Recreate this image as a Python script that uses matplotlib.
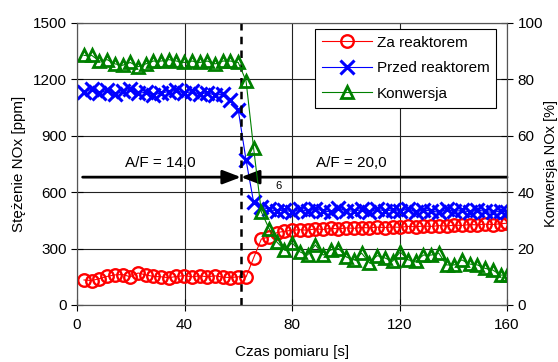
import numpy as np
import matplotlib
matplotlib.use('Agg')
import matplotlib.pyplot as plt

plt.rcParams['font.family'] = ['Liberation Sans', 'DejaVu Sans']
plt.rcParams['font.size'] = 11

#Measurement times [s]
czas = [2.6, 5.5, 8.3, 11.2, 14.1, 17.0, 19.8, 22.7, 25.6, 28.4, 31.3, 34.2, 37.0, 39.9,
	42.8, 45.7, 48.5, 51.4, 54.3, 57.1, 60.0, 62.9, 65.7, 68.6, 71.5, 74.4, 77.2, 80.1,
	83.0, 85.8, 88.7, 91.6, 94.4, 97.3, 100.2, 103.1, 105.9, 108.8, 111.7, 114.5, 117.4,
	120.3, 123.1, 126.0, 128.9, 131.8, 134.6, 137.5, 140.4, 143.2, 146.1, 149.0, 151.8,
	154.7, 157.6, 160.0]

#NOx after reactor [ppm]
za_reaktorem = [133, 130, 140, 152, 160, 162, 150, 170, 160, 152, 150, 145, 152, 156,
	150, 155, 150, 155, 148, 146, 150, 149, 250, 351, 362, 385, 392, 398,
	400, 398, 405, 402, 408, 405, 410, 408, 412, 410, 414, 412, 415,
	413, 418, 416, 420, 418, 422, 420, 425, 423, 428, 426, 430,
	428, 432, 435]

#NOx before reactor [ppm]
przed_reaktorem = [1135, 1148, 1128, 1142, 1122, 1136, 1148, 1125, 1132, 1118, 1128, 1135, 1142, 1126,
	1136, 1120, 1130, 1115, 1122, 1092, 1037, 771, 548, 522, 508, 500, 505, 495,
	510, 498, 512, 500, 495, 515, 502, 498, 508, 495, 510, 500, 505,
	498, 512, 496, 505, 500, 493, 508, 498, 503, 495, 505, 498,
	492, 500, 495]

#NOx conversion [%]
konwersja = [88.5, 88.5, 86.5, 87.0, 85.5, 85.0, 86.0, 84.5, 85.5, 86.5, 86.5, 87.0, 86.5, 86.0,
	86.5, 86.0, 86.5, 85.5, 86.5, 86.5, 86.0, 79.5, 55.7, 33.0, 27.0, 22.3, 19.5, 22.0,
	18.8, 17.7, 21.3, 17.7, 19.5, 20.0, 17.0, 16.0, 18.4, 15.0, 17.5, 16.7, 15.5,
	18.8, 16.0, 15.5, 17.7, 17.7, 18.4, 14.2, 14.2, 16.0, 14.5, 14.2, 13.0,
	12.4, 10.6, 10.6]

x_ticks = [0, 40, 80, 120, 160]
y_ticks = [0, 300, 600, 900, 1200, 1500]
y2_ticks = [0, 20, 40, 60, 80, 100]

t_zmiana = 61.0   #A/F switch
y_strzalka = 680

fig = plt.figure(figsize=(5.58, 3.62), dpi=100)
ax = fig.add_axes([0.138, 0.1575, 0.7706, 0.779])
ax2 = ax.twinx()

l1, = ax.plot(czas, za_reaktorem, '-', color='red', lw=0.8, marker='o', ms=9,
	mfc='none', mec='red', mew=1.7, label='Za reaktorem')
l2, = ax.plot(czas, przed_reaktorem, '-', color='blue', lw=0.8, marker='x', ms=10,
	mec='blue', mew=2.2, label='Przed reaktorem')
l3, = ax2.plot(czas, konwersja, '-', color='green', lw=0.8, marker='^', ms=9,
	mfc='none', mec='green', mew=2.0, label='Konwersja')

ax.set_xlim(0, 160)
ax.set_ylim(0, 1500)
ax2.set_ylim(0, 100)
ax.set_xticks(x_ticks)
ax.set_yticks(y_ticks)
ax2.set_yticks(y2_ticks)

ax.grid(True, color='#222222', lw=0.8)
ax.set_axisbelow(True)
for a in (ax, ax2):
	a.tick_params(direction='inout', length=9, width=0.8, colors='black', labelsize=11, pad=3)
	for s in a.spines.values():
		s.set_linewidth(0.8)
		s.set_color('#555555')
ax.tick_params(axis='x', pad=5)

ax.set_xlabel('Czas pomiaru [s]', labelpad=9)
ax.set_ylabel('Stężenie NOx [ppm]', labelpad=5)
ax2.set_ylabel('Konwersja NOx [%]', labelpad=1, fontsize=10.5)

#switch line and A/F arrows
ax.axvline(t_zmiana, color='black', lw=1.8, ls=(0, (3, 2.5)))
ap = dict(arrowstyle='-|>,head_length=1.1,head_width=0.42', lw=2, color='black',
	shrinkA=0, shrinkB=0, mutation_scale=10)
ax.annotate('', xy=(t_zmiana, y_strzalka), xytext=(2.1, y_strzalka), arrowprops=ap)
ax.annotate('', xy=(t_zmiana, y_strzalka), xytext=(160, y_strzalka), arrowprops=ap)
ax.text(31, 755, 'A/F = 14,0', ha='center', va='center', fontsize=11)
ax.text(102, 755, 'A/F = 20,0', ha='center', va='center', fontsize=11)
ax.text(75, 632, '6', ha='center', va='center', fontsize=8)

leg = ax2.legend([l1, l2, l3], ['Za reaktorem', 'Przed reaktorem', 'Konwersja'],
	loc='upper right', bbox_to_anchor=(0.975, 0.979), fancybox=False, framealpha=1,
	edgecolor='black', handlelength=3.3, labelspacing=0.75, borderpad=0.45,
	handletextpad=0.3, borderaxespad=0, fontsize=11)
leg.get_frame().set_linewidth(0.8)

fig.savefig('out.png', dpi=100)
